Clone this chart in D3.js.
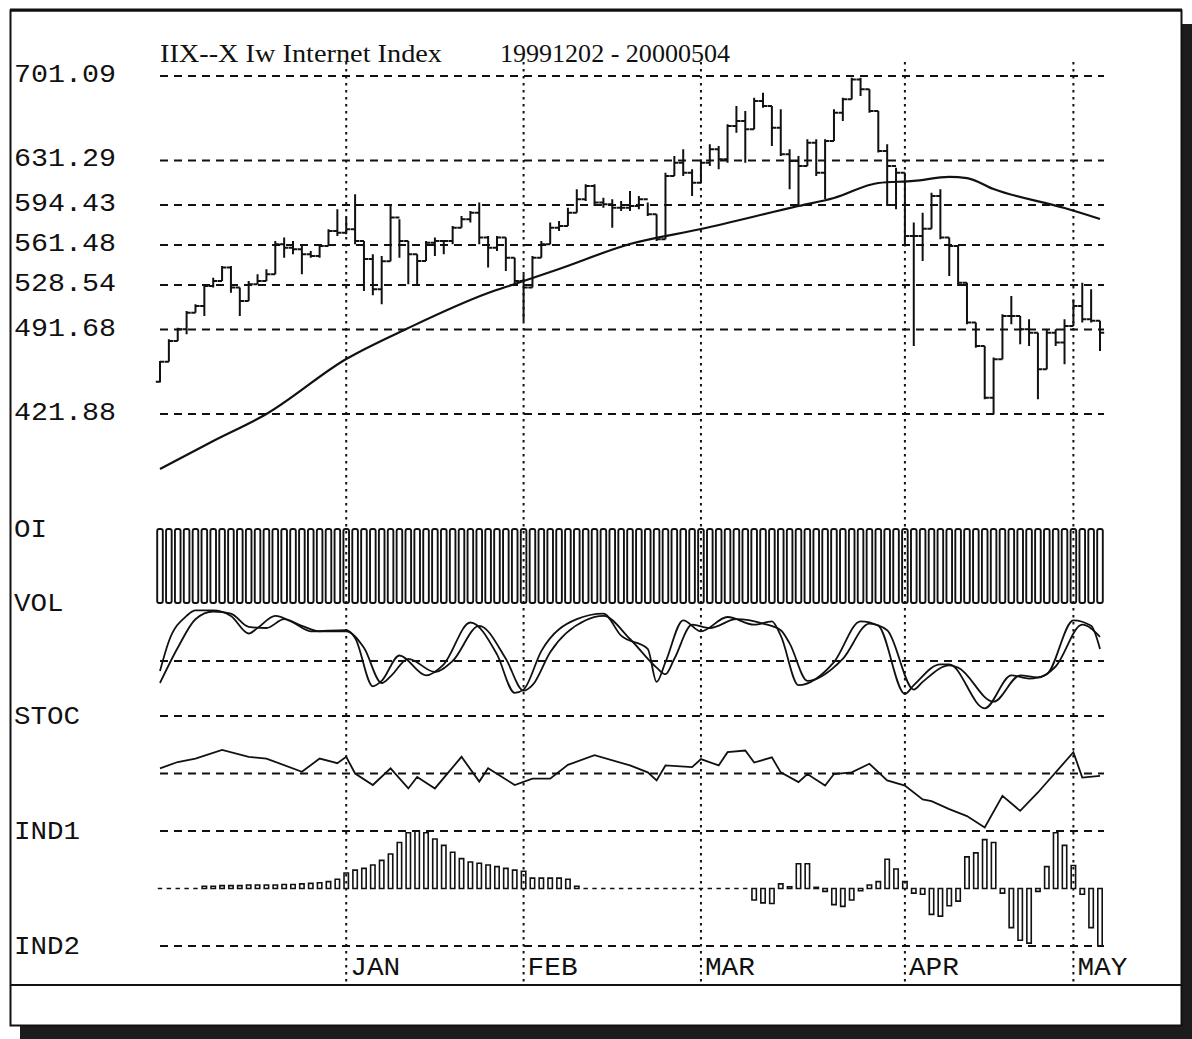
<!DOCTYPE html>
<html>
<head>
<meta charset="utf-8">
<script src="https://cdn.jsdelivr.net/npm/d3@7"></script>
<style>
  html, body { margin: 0; padding: 0; background: #fff; }
  svg { display: block; }
</style>
</head>
<body>
<svg id="chart" width="1192" height="1039"></svg>
<script>
// ---- IIX--X Internet Index, daily bars 1999-12-02 .. 2000-05-04 (107 sessions) ----
const opens = [448.5,465.0,482.2,491.9,505.6,511.1,527.6,531.8,542.8,526.3,515.3,529.0,531.8,537.3,562.1,559.3,557.9,553.8,552.4,560.7,573.1,
  571.7,574.4,564.8,550.0,525.0,548.0,584.1,564.8,553.8,548.3,563.4,564.8,564.8,575.8,582.7,588.2,567.6,559.3,567.6,551.0,
  531.8,526.3,551.0,562.1,575.8,577.2,588.2,599.2,610.2,596.5,595.1,592.3,592.3,593.7,599.2,586.9,566.2,618.5,629.5,621.2,
  613.0,629.5,640.5,632.3,659.8,663.9,657.0,680.4,676.3,658.4,636.4,630.9,626.8,646.0,621.2,647.4,670.8,681.8,698.3,690.1,672.2,639.2,626.8,
  621.2,569.0,569.0,575.0,602.0,567.6,560.7,530.4,497.4,478.1,435.4,467.1,502.9,502.9,491.9,489.1,458.8,489.1,480.9,
  494.6,511.1,500.1,499.0];
const highs = [465.7,483.6,493.2,507.0,512.5,529.0,534.5,544.2,544.2,526.3,531.8,537.3,541.4,564.8,567.6,564.8,562.1,556.5,562.1,574.4,591.0,
  584.1,603.4,564.8,553.8,552.4,595.1,582.7,564.8,553.8,564.8,567.6,564.8,577.2,585.5,589.6,596.5,568.9,568.9,567.6,551.0,
  537.3,552.4,564.8,580.0,581.3,592.3,607.5,611.6,611.6,600.6,599.2,597.8,606.1,602.0,596.5,586.9,621.2,635.0,640.5,624.0,
  632.3,644.7,643.3,661.2,676.3,672.2,683.2,687.3,676.3,673.6,640.5,635.0,648.8,648.8,648.8,673.6,683.2,699.7,699.7,690.1,672.2,644.7,625.4,
  621.2,580.0,588.2,604.7,607.5,567.6,560.7,530.4,497.4,478.1,468.5,504.3,519.4,502.9,500.1,489.1,491.9,491.9,500.1,
  516.6,530.4,524.9,499.0];
const lows = [447.8,465.0,482.2,487.7,505.6,502.9,526.3,531.8,522.1,502.9,515.3,529.0,531.8,537.3,551.0,553.8,537.3,551.0,551.0,560.7,569.0,
  570.3,562.1,523.5,520.0,512.5,548.0,551.0,529.0,529.0,548.3,552.4,553.8,562.1,575.8,580.0,562.1,542.8,556.5,540.0,529.0,
  498.7,526.3,551.0,562.1,573.1,577.2,588.2,597.8,593.7,592.3,575.8,589.6,589.6,591.0,585.5,564.8,566.2,618.5,618.5,602.0,
  613.0,626.8,624.0,629.5,654.3,629.5,657.0,674.9,643.3,635.0,607.5,593.7,626.8,618.5,599.2,647.4,663.9,681.8,684.6,670.8,637.8,593.7,591.0,
  560.7,478.1,548.3,575.0,566.2,535.9,527.7,496.0,476.7,434.0,421.6,467.1,496.0,479.5,478.1,434.0,458.8,478.1,463.0,
  494.6,497.4,497.4,474.0];
const closes = [465.0,482.2,491.9,505.6,511.1,527.6,531.8,542.8,526.3,515.3,529.0,531.8,537.3,562.1,559.3,557.9,553.8,552.4,560.7,573.1,571.7,
  574.4,564.8,550.0,525.0,548.0,584.1,564.8,553.8,548.3,563.4,564.8,564.8,575.8,582.7,588.2,567.6,559.3,567.6,551.0,531.8,
  526.3,551.0,562.1,575.8,577.2,588.2,599.2,610.2,596.5,595.1,592.3,592.3,593.7,599.2,586.9,566.2,618.5,629.5,621.2,613.0,
  629.5,640.5,632.3,659.8,663.9,657.0,680.4,676.3,658.4,636.4,630.9,626.8,646.0,621.2,647.4,670.8,681.8,698.3,690.1,672.2,639.2,626.8,621.2,
  569.0,569.0,575.0,602.0,567.6,560.7,530.4,497.4,478.1,435.4,467.1,502.9,502.9,491.9,489.1,458.8,489.1,480.9,494.6,
  511.1,500.1,499.0,489.1];

// moving average of the close (session index, value)
const maIdx = [0, 6, 12, 21, 28, 37, 40, 45, 53, 61, 72, 76, 81, 85, 89, 91, 94, 102, 106];
const maVal = [376.5, 399.6, 421.9, 467.3, 492.9, 521.8, 529.3, 541.7, 562.3, 574.7, 593.7, 600.3, 612.7, 614.4, 617.7, 616.8, 607.7, 592.0, 583.0];

// volume / open interest (every session saturates the panel)
const volume = [100,100,100,100,100,100,100,100,100,100,100,100,100,100,100,100,100,100,100,100,100,
  100,100,100,100,100,100,100,100,100,100,100,100,100,100,100,100,100,100,100,100,
  100,100,100,100,100,100,100,100,100,100,100,100,100,100,100,100,100,100,100,100,
  100,100,100,100,100,100,100,100,100,100,100,100,100,100,100,100,100,100,100,100,100,100,100,
  100,100,100,100,100,100,100,100,100,100,100,100,100,100,100,100,100,100,100,
  100,100,100,100];

// stochastic %K and %D (session index, value 0..100)
const stocKIdx = [0,1,3,4,6,8,10,11,13,15,17,21,22,24,25,27,30,32,35,38,40,41,43,47,50,52,55,56,57,59,61,64,67,69,70,72,76,79,81,84,85,88,89,93,96,98,100,103,105,106];
const stocKVal = [41,68,91,96,96,91,75,80,91,85,77,78,71,27,32,55,37,47,85,56,21,24,59,88,93,73,61,31,49,87,77,90,83,86,73,28,49,86,82,20,28,47,47,7,37,34,38,87,82,61];
const stocDIdx = [0,2,4,6,8,10,12,14,16,18,21,23,25,26,28,31,33,36,39,41,42,44,48,50,53,56,57,58,60,62,65,68,70,71,73,77,80,82,85,86,89,90,94,97,99,101,104,106];
const stocDVal = [30,62,88,95,93,81,80,88,82,77,77,62,30,36,52,40,50,82,52,23,28,58,87,91,70,44,38,52,83,80,88,84,78,66,32,52,84,78,24,31,46,44,13,37,35,45,83,72];

// IND1 oscillator line (session index, value -100..100)
const ind1Idx = [0,2,4,7,10,12,16,18,20,21,22,24,26,28,29,31,34,36,37,40,42,44,46,49,53,55,56,57,60,61,63,64,66,67,69,70,72,73,75,76,78,80,82,84,86,87,89,91,93,95,97,99,103,104,106];
const ind1Val = [9,20,26,41,29,26,3,26,18,29,0,-20,9,-26,-6,-26,29,-14,9,-20,-9,-9,15,32,14,2,-12,14,11,25,14,37,40,19,28,2,-15,-1,-21,-1,2,17,-12,-21,-45,-48,-62,-74,-94,-39,-65,-33,37,-7,-4];

// IND2 histogram, one value per session (-100..100)
const ind2 = [0,0,0,0,0,4,4,5,5,5,6,6,6,6,7,7,8,9,10,12,16,
  27,32,35,41,49,60,80,97,100,97,86,75,63,52,46,44,41,38,35,32,
  30,18,18,18,18,16,4,0,0,0,0,0,0,0,0,0,0,0,0,0,
  0,0,0,0,0,0,-20,-25,-26,8,3,43,43,2,-5,-28,-31,-20,-4,6,12,51,34,
  12,-8,-10,-45,-48,-30,-22,55,62,85,80,-8,-68,-90,-95,-5,38,
  97,75,40,-10,-68,-100];

const priceTicks = ["701.09", "631.29", "594.43", "561.48", "528.54", "491.68", "421.88"];
const monthNames = ["JAN", "FEB", "MAR", "APR", "MAY"];
const monthIdx = [21, 41, 61, 84, 103];
const paneLabels = ["OI", "VOL", "STOC", "IND1", "IND2"];
const titleLeft = "IIX--X  Iw Internet Index";
const titleRight = "19991202 - 20000504";

// ---------------------------------------------------------------------
const svg = d3.select("#chart");
const INK = "#111";
const MONO = "'Liberation Mono', 'DejaVu Sans Mono', monospace";
const SERIF = "'Liberation Serif', 'DejaVu Serif', serif";

const x = d3.scaleLinear().domain([0, 106]).range([160, 1100]);
const yPrice = d3.scaleLinear().domain([421.88, 701.09]).range([414, 76]);
const yVol = d3.scaleLinear().domain([0, 100]).range([603, 529]);
const yStoc = d3.scaleLinear().domain([0, 100]).range([716, 606]);
const yInd1 = d3.scaleLinear().domain([-100, 100]).range([831, 716]);
const yInd2 = d3.scaleLinear().domain([-100, 100]).range([946, 831]);

const GX0 = 160, GX1 = 1104;

// frame and drop shadow
svg.append("rect").attr("x", 1182).attr("y", 24).attr("width", 10).attr("height", 1015).attr("fill", "#1c1c1c");
svg.append("rect").attr("x", 20).attr("y", 1026).attr("width", 1172).attr("height", 13).attr("fill", "#1c1c1c");
svg.append("rect").attr("x", 10.5).attr("y", 10.5).attr("width", 1171).attr("height", 1015)
  .attr("fill", "#fff").attr("stroke", INK).attr("stroke-width", 2);
svg.append("line").attr("x1", 10).attr("x2", 1182).attr("y1", 10).attr("y2", 10)
  .attr("stroke", INK).attr("stroke-width", 3);
svg.append("line").attr("x1", 10).attr("x2", 1182).attr("y1", 985).attr("y2", 985)
  .attr("stroke", INK).attr("stroke-width", 2);

// horizontal dashed grid
const hLevels = priceTicks.map(t => yPrice(+t)).concat([yStoc(50), yStoc(0), yInd1(0), yInd1(-100), yInd2(-100)]);
svg.append("g").selectAll("line").data(hLevels).join("line")
  .attr("x1", GX0).attr("x2", GX1).attr("y1", d => d).attr("y2", d => d)
  .attr("stroke", INK).attr("stroke-width", 2).attr("stroke-dasharray", "8,6");

// vertical dotted month lines
svg.append("g").selectAll("line").data(monthIdx).join("line")
  .attr("x1", d => x(d)).attr("x2", d => x(d)).attr("y1", 62).attr("y2", 984)
  .attr("stroke", INK).attr("stroke-width", 2).attr("stroke-dasharray", "2.5,4.5");

// left labels
svg.append("g").selectAll("text").data(priceTicks).join("text")
  .attr("x", 14).attr("y", d => yPrice(+d) + 6)
  .attr("font-family", MONO).attr("font-size", 26).attr("fill", INK)
  .attr("textLength", 102).attr("lengthAdjust", "spacingAndGlyphs")
  .text(d => d);
const paneY = [yVol(100), yVol(0), yStoc(0), yInd1(-100), yInd2(-100)];
svg.append("g").selectAll("text").data(paneLabels).join("text")
  .attr("x", 14).attr("y", (d, i) => paneY[i] + 8)
  .attr("font-family", MONO).attr("font-size", 26).attr("fill", INK)
  .attr("textLength", d => d.length * 16.5).attr("lengthAdjust", "spacingAndGlyphs")
  .text(d => d);

// month labels
svg.append("g").selectAll("text").data(monthNames).join("text")
  .attr("x", (d, i) => x(monthIdx[i]) + 4).attr("y", 975)
  .attr("font-family", MONO).attr("font-size", 26).attr("fill", INK)
  .attr("textLength", 50).attr("lengthAdjust", "spacingAndGlyphs")
  .text(d => d);

// title
svg.append("text").attr("x", 160).attr("y", 62)
  .attr("font-family", SERIF).attr("font-size", 25).attr("fill", INK)
  .attr("textLength", 282).attr("lengthAdjust", "spacingAndGlyphs").text(titleLeft);
svg.append("text").attr("x", 500).attr("y", 62)
  .attr("font-family", SERIF).attr("font-size", 25).attr("fill", INK)
  .attr("textLength", 230).attr("lengthAdjust", "spacingAndGlyphs").text(titleRight);

// price bars: high-low stem, open tick left, close tick right
const barPath = d3.range(highs.length).map(i => {
  const cx = x(i), t = 4.2;
  return `M${cx},${yPrice(lows[i])}V${yPrice(highs[i])}` +
         `M${cx - t},${yPrice(opens[i])}H${cx}` +
         `M${cx},${yPrice(closes[i])}H${cx + t}`;
}).join("");
svg.append("path").attr("d", barPath)
  .attr("stroke", INK).attr("stroke-width", 2).attr("fill", "none");

// moving average
svg.append("path")
  .datum(maIdx.map((d, i) => [d, maVal[i]]))
  .attr("fill", "none").attr("stroke", INK).attr("stroke-width", 2.2)
  .attr("d", d3.line().x(d => x(d[0])).y(d => yPrice(d[1])).curve(d3.curveMonotoneX));

// volume bars (outlined)
svg.append("g").selectAll("rect").data(volume).join("rect")
  .attr("x", (d, i) => x(i) - 2.8).attr("width", 5.6)
  .attr("y", d => yVol(d)).attr("height", d => yVol(0) - yVol(d))
  .attr("rx", 2)
  .attr("fill", "none").attr("stroke", INK).attr("stroke-width", 1.9);

// stochastic %K / %D
const stocLine = d3.line().x(d => x(d[0])).y(d => yStoc(d[1])).curve(d3.curveMonotoneX);
svg.append("path").datum(stocKIdx.map((d, i) => [d, stocKVal[i]]))
  .attr("fill", "none").attr("stroke", INK).attr("stroke-width", 1.8).attr("d", stocLine);
svg.append("path").datum(stocDIdx.map((d, i) => [d, stocDVal[i]]))
  .attr("fill", "none").attr("stroke", INK).attr("stroke-width", 1.8).attr("d", stocLine);

// IND1 line
svg.append("path").datum(ind1Idx.map((d, i) => [d, ind1Val[i]]))
  .attr("fill", "none").attr("stroke", INK).attr("stroke-width", 1.8)
  .attr("d", d3.line().x(d => x(d[0])).y(d => yInd1(d[1])));

// IND2 histogram: outlined bars from zero (a flat session still shows as a short dash)
svg.append("g").selectAll("path").data(ind2).join("path")
  .attr("d", (d, i) => {
    const x0 = x(i) - 2.2, x1 = x(i) + 2.2, y0 = yInd2(0), y1 = yInd2(d);
    return `M${x0},${y0}V${y1}H${x1}V${y0}Z`;
  })
  .attr("fill", "none").attr("stroke", INK).attr("stroke-width", 1.6);
</script>
</body>
</html>
